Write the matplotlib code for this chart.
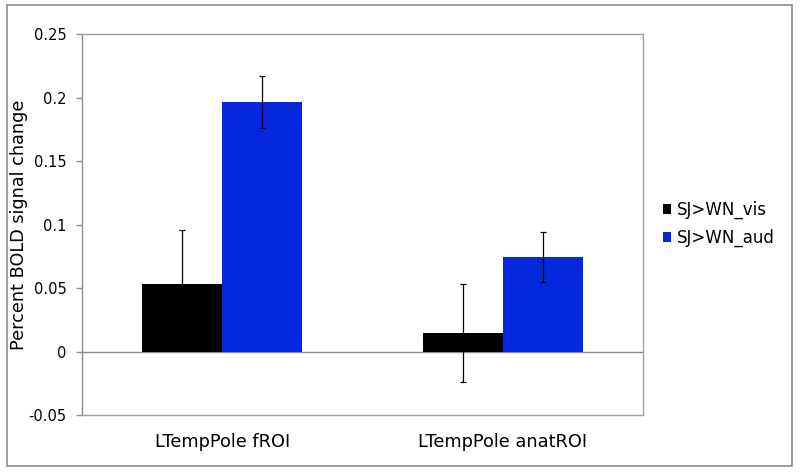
import matplotlib
matplotlib.use("Agg")
import matplotlib.pyplot as plt
from matplotlib.patches import Rectangle
import numpy as np

categories = ["LTempPole fROI", "LTempPole anatROI"]
series_names = ["SJ>WN_vis", "SJ>WN_aud"]
vis_values = [0.053, 0.0148]
vis_errors = [0.043, 0.0385]
aud_values = [0.1965, 0.0745]
aud_errors = [0.0205, 0.0197]
y_ticks = [-0.05, 0, 0.05, 0.1, 0.15, 0.2, 0.25]
y_tick_labels = ["-0.05", "0", "0.05", "0.1", "0.15", "0.2", "0.25"]

colors = ["#000000", "#0527DE"]
W, H = 800, 472
fig = plt.figure(figsize=(W / 100, H / 100), dpi=100)
plt.rcParams['font.family'] = ['DejaVu Sans']

# outer frame
fig.patches.append(Rectangle((7 / W, 1 - 466 / H), (792 - 7) / W, (466 - 5) / H,
                             transform=fig.transFigure, fill=False,
                             edgecolor="#8c8c8c", linewidth=1.2))

left, right, top, bottom = 82, 643, 34.3, 415
ax = fig.add_axes([left / W, 1 - bottom / H, (right - left) / W, (bottom - top) / H])

x = np.arange(len(categories))
bw = 2 / 7
ax.bar(x - bw / 2, vis_values, width=bw, color=colors[0], label=series_names[0], zorder=2)
ax.bar(x + bw / 2, aud_values, width=bw, color=colors[1], label=series_names[1], zorder=2)
ax.errorbar(x - bw / 2, vis_values, yerr=vis_errors, fmt="none", ecolor="black",
            elinewidth=0.9, capsize=2.3, capthick=0.9, zorder=3)
ax.errorbar(x + bw / 2, aud_values, yerr=aud_errors, fmt="none", ecolor="black",
            elinewidth=0.9, capsize=2.3, capthick=0.9, zorder=3)

ax.set_xlim(-0.5, 1.5)
ax.set_ylim(-0.05, 0.25)
ax.axhline(0, color="#8c8c8c", linewidth=1.0, zorder=1)
ax.set_yticks(y_ticks)
ax.set_yticklabels(y_tick_labels, fontsize=10.5)
ax.set_xticks(x)
ax.set_xticklabels(categories, fontsize=12.8)
ax.tick_params(axis="x", length=0, pad=13)
ax.tick_params(axis="y", length=4, width=1, color="#8c8c8c", pad=7)
for sp in ax.spines.values():
    sp.set_color("#a0a0a0")
    sp.set_linewidth(1.0)
ax.spines["left"].set_color("#8c8c8c")
ax.set_ylabel("Percent BOLD signal change", fontsize=12.7)
ax.yaxis.set_label_coords((28 - left) / (right - left), 0.5)

fig.legend(loc="center left", bbox_to_anchor=(656 / W, 1 - 224 / H), frameon=False,
           fontsize=12, handlelength=0.5, handleheight=0.5, handletextpad=0.35,
           labelspacing=0.6, borderaxespad=0)

fig.savefig("out.png", dpi=100)
